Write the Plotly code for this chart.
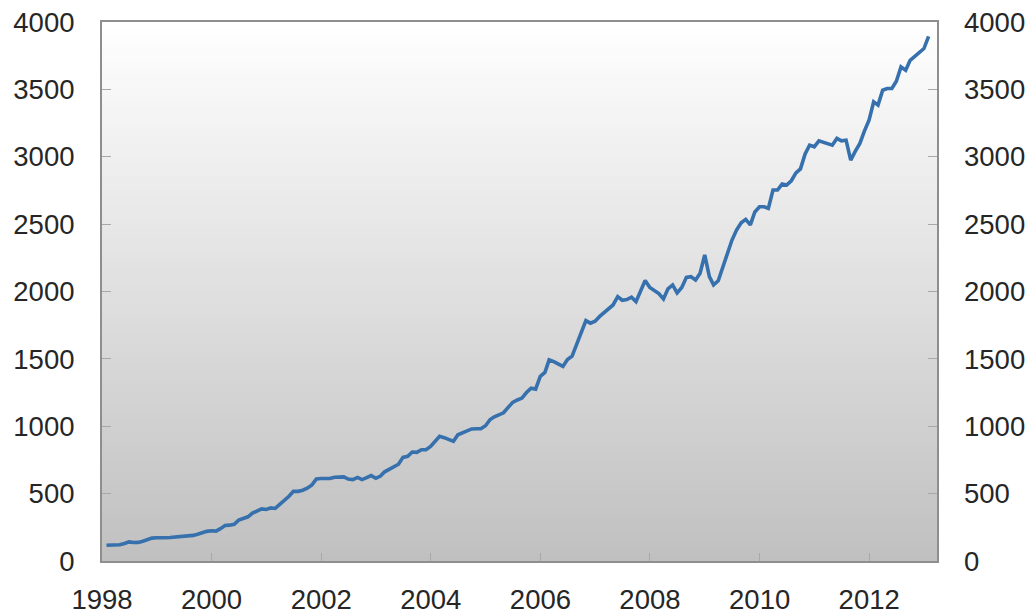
import pandas as pd
import plotly.graph_objects as go

# Monthly values, Jan 1998 .. Jan 2013
v1998 = [117, 117, 118, 120, 130, 142, 137, 138, 147, 158, 170, 172]
v1999 = [170, 172, 174, 177, 178, 182, 186, 190, 198, 210, 220, 224]
v2000 = [222, 240, 263, 266, 272, 303, 315, 328, 355, 370, 387, 382]
v2001 = [394, 390, 420, 450, 480, 517, 517, 525, 540, 565, 609, 612]
v2002 = [615, 612, 622, 624, 624, 608, 604, 620, 604, 618, 634, 614]
v2003 = [630, 662, 680, 700, 718, 769, 777, 809, 806, 826, 826, 850]
v2004 = [890, 925, 915, 900, 888, 937, 950, 965, 980, 982, 982, 1004]
v2005 = [1050, 1070, 1085, 1100, 1140, 1177, 1195, 1209, 1250, 1283, 1276, 1370]
v2006 = [1400, 1493, 1480, 1460, 1444, 1495, 1520, 1610, 1700, 1784, 1765, 1780]
v2007 = [1815, 1840, 1870, 1900, 1962, 1935, 1940, 1958, 1925, 2000, 2081, 2030]
v2008 = [2010, 1985, 1945, 2020, 2049, 1990, 2030, 2105, 2110, 2086, 2136, 2271]
v2009 = [2110, 2049, 2080, 2180, 2300, 2380, 2456, 2510, 2535, 2494, 2590, 2629]
v2010 = [2629, 2617, 2753, 2753, 2797, 2790, 2822, 2880, 2910, 3020, 3086, 3074]
v2011 = [3118, 3110, 3099, 3086, 3136, 3118, 3123, 2975, 3040, 3099, 3190, 3272]
v2012 = [3407, 3383, 3494, 3506, 3506, 3560, 3667, 3642, 3716, 3745, 3766, 3803]
v2013 = [3894]

values = (v1998 + v1999 + v2000 + v2001 + v2002 + v2003 + v2004 + v2005 +
          v2006 + v2007 + v2008 + v2009 + v2010 + v2011 + v2012 + v2013)
dates = pd.date_range("1998-01-31", periods=len(values), freq="ME")

x_ticks = [f"{y}-01-01" for y in range(1998, 2013, 2)]
x_ticklabels = [str(y) for y in range(1998, 2013, 2)]
y_ticks = list(range(0, 4001, 500))

LINE = "#3670ad"
TXT = "#262626"
BORDER = "#8e8e8e"
TICKC = "#a8a8a8"
FONT = dict(family="Liberation Sans, Arial, sans-serif", size=27.5, color=TXT)

fig = go.Figure()
fig.add_trace(go.Scatter(x=dates, y=values, mode="lines",
                         line=dict(color=LINE, width=3.6),
                         showlegend=False, hoverinfo="x+y"))
fig.add_trace(go.Scatter(x=dates, y=values, mode="lines", yaxis="y2",
                         line=dict(color="rgba(0,0,0,0)", width=0),
                         showlegend=False, hoverinfo="skip"))

# vertical gradient background for the plot area
n = 80
top, bot = 255, 192
for i in range(n):
    f = (i + 0.5) / n
    c = round(top + (bot - top) * f)
    fig.add_shape(type="rect", xref="paper", yref="paper",
                  x0=0, x1=1, y0=1 - (i + 1) / n, y1=1 - i / n + 0.002,
                  fillcolor=f"rgb({c},{c},{c})", line=dict(width=0),
                  layer="below")

# page body has an 8px default margin -> figure is sized/offset to compensate
fig.update_layout(
    width=1025, height=607,
    margin=dict(l=94, r=96, t=14, b=54),
    paper_bgcolor="white", plot_bgcolor="rgba(0,0,0,0)",
    font=FONT,
    xaxis=dict(type="date", range=["1998-01-01", "2013-03-28"],
               tickvals=x_ticks, ticktext=x_ticklabels,
               ticks="inside", ticklen=8, tickcolor=TICKC, tickwidth=1,
               showgrid=False, zeroline=False, automargin=False,
               showline=True, linecolor=BORDER, linewidth=2, mirror=True,
               ticklabelstandoff=13, ticklabeloverflow="allow", tickfont=FONT),
    yaxis=dict(range=[0, 4000], tickvals=y_ticks,
               ticks="inside", ticklen=9, tickcolor=TICKC, tickwidth=1,
               showgrid=False, zeroline=False, automargin=False,
               showline=True, linecolor=BORDER, linewidth=2, mirror=True,
               ticklabelstandoff=20, ticklabeloverflow="allow", tickfont=FONT),
    yaxis2=dict(range=[0, 4000], tickvals=y_ticks, overlaying="y", side="right",
                ticks="inside", ticklen=9, tickcolor=TICKC, tickwidth=1,
                showgrid=False, zeroline=False, showline=False, automargin=False,
                ticklabelstandoff=26, ticklabeloverflow="allow", tickfont=FONT),
)

fig.write_html("out.html")
